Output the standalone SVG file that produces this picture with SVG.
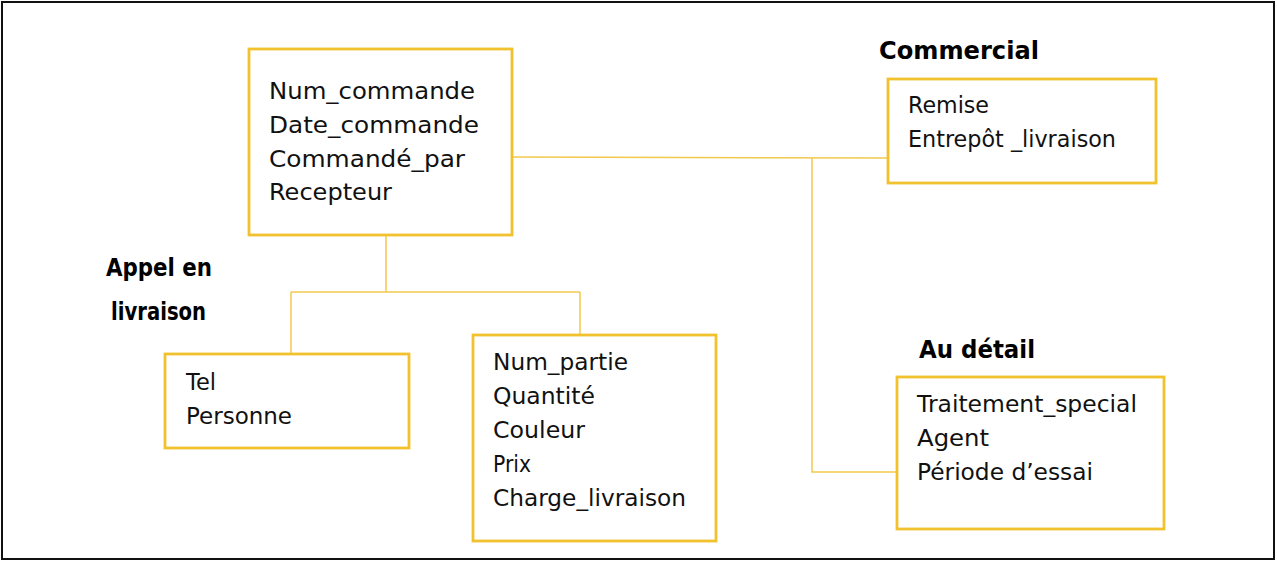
<svg xmlns="http://www.w3.org/2000/svg" width="1277" height="562" viewBox="0 0 1277 562">
<style>
.box{fill:#fff;stroke:#F2C12E;stroke-width:2.8}
.con{fill:none;stroke:#F2C94C;stroke-width:1.5}
.t{font-family:"DejaVu Sans","Liberation Sans",sans-serif;font-size:23px;fill:#111}
.h{font-family:"DejaVu Sans","Liberation Sans",sans-serif;font-size:24px;font-weight:bold;fill:#000}
</style>
<rect x="0" y="0" width="1277" height="562" fill="#fff"/>
<rect x="2" y="2" width="1272" height="557" fill="none" stroke="#111" stroke-width="2"/>
<g id="connectors">
<path class="con" d="M513 157 L888 158"/>
<path class="con" d="M812 158 L812 472 L897 472"/>
<path class="con" d="M386 235 L386 292"/>
<path class="con" d="M291 292 L580 292"/>
<path class="con" d="M291 292 L291 354"/>
<path class="con" d="M580 292 L580 335"/>
</g>
<g id="commande">
<rect class="box" x="249" y="49" width="263" height="186"/>
<text class="t" x="269" y="99" textLength="206" lengthAdjust="spacingAndGlyphs">Num_commande</text>
<text class="t" x="269" y="133" textLength="210" lengthAdjust="spacingAndGlyphs">Date_commande</text>
<text class="t" x="269" y="167" textLength="196" lengthAdjust="spacingAndGlyphs">Commandé_par</text>
<text class="t" x="269" y="200" textLength="123" lengthAdjust="spacingAndGlyphs">Recepteur</text>
</g>
<g id="commercial">
<text class="h" x="879" y="59" textLength="160" lengthAdjust="spacingAndGlyphs">Commercial</text>
<rect class="box" x="888" y="79" width="268" height="104"/>
<text class="t" x="908" y="113" textLength="81" lengthAdjust="spacingAndGlyphs">Remise</text>
<text class="t" x="908" y="147" textLength="208" lengthAdjust="spacingAndGlyphs">Entrepôt _livraison</text>
</g>
<g id="appel">
<text class="h" x="106" y="276" textLength="106" lengthAdjust="spacingAndGlyphs">Appel en</text>
<text class="h" x="111" y="320" textLength="95" lengthAdjust="spacingAndGlyphs">livraison</text>
<rect class="box" x="165" y="354" width="244" height="94"/>
<text class="t" x="186" y="390" textLength="30" lengthAdjust="spacingAndGlyphs">Tel</text>
<text class="t" x="186" y="424" textLength="106" lengthAdjust="spacingAndGlyphs">Personne</text>
</g>
<g id="partie">
<rect class="box" x="473" y="335" width="243" height="206"/>
<text class="t" x="493" y="370" textLength="135" lengthAdjust="spacingAndGlyphs">Num_partie</text>
<text class="t" x="493" y="404" textLength="102" lengthAdjust="spacingAndGlyphs">Quantité</text>
<text class="t" x="493" y="438" textLength="92" lengthAdjust="spacingAndGlyphs">Couleur</text>
<text class="t" x="493" y="472" textLength="38" lengthAdjust="spacingAndGlyphs">Prix</text>
<text class="t" x="493" y="506" textLength="193" lengthAdjust="spacingAndGlyphs">Charge_livraison</text>
</g>
<g id="detail">
<text class="h" x="919" y="358" textLength="116" lengthAdjust="spacingAndGlyphs">Au détail</text>
<rect class="box" x="897" y="377" width="267" height="152"/>
<text class="t" x="917" y="412" textLength="220" lengthAdjust="spacingAndGlyphs">Traitement_special</text>
<text class="t" x="917" y="446" textLength="72" lengthAdjust="spacingAndGlyphs">Agent</text>
<text class="t" x="917" y="480" textLength="176" lengthAdjust="spacingAndGlyphs">Période d’essai</text>
</g>
</svg>
